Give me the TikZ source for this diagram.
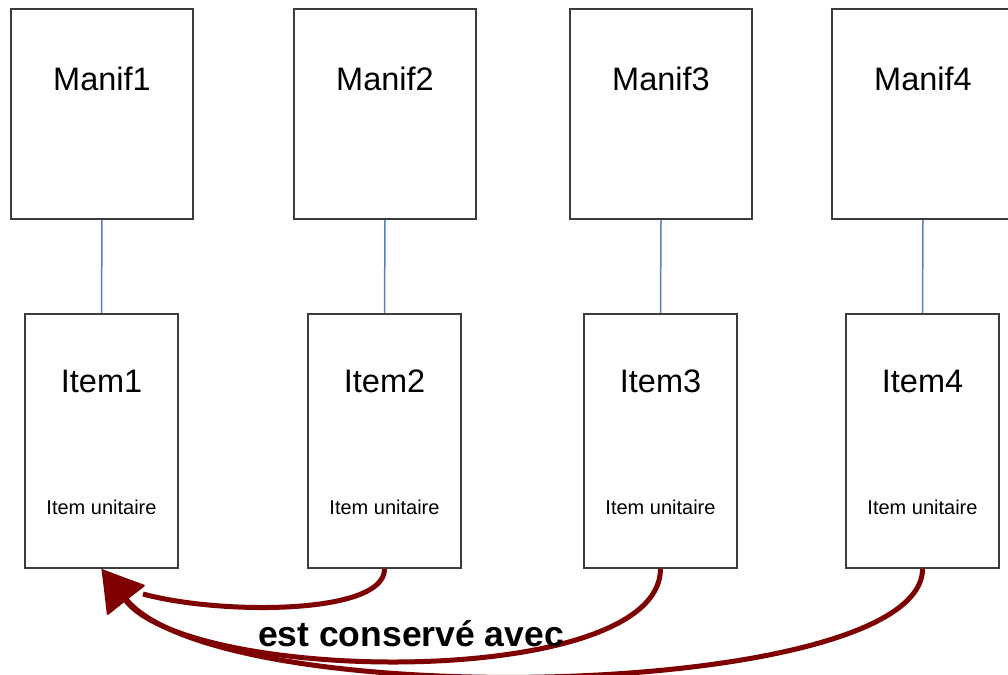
\documentclass[tikz,border=0pt]{standalone}
\usepackage{fontspec}
\setmainfont{Liberation Sans}
\usetikzlibrary{arrows.meta}
\definecolor{boxline}{HTML}{3C3C3C}
\definecolor{linkblue}{HTML}{5B80C0}
\definecolor{arrowred}{HTML}{7F0000}
\begin{document}
\begin{tikzpicture}[x=1pt,y=-1pt,
  manifbox/.style={draw=boxline,line width=1.8pt,fill=white,minimum width=182pt,minimum height=210pt,inner sep=0pt},
  itembox/.style={draw=boxline,line width=1.8pt,fill=white,minimum width=153pt,minimum height=254pt,inner sep=0pt},
  bigtxt/.style={font=\fontsize{32.5}{36}\selectfont,inner sep=0pt},
  smalltxt/.style={font=\fontsize{20}{22}\selectfont,inner sep=0pt},
  link/.style={draw=linkblue,line width=1.5pt},
  keep/.style={draw=arrowred,line width=5pt},
  keeptip/.style={keep,-{Triangle[length=40pt,width=46pt]}},
  lbl/.style={font=\fontsize{35.5}{40}\selectfont\bfseries,inner sep=0pt}]
\clip (0,0) rectangle (1008,674);
\fill[white] (0,0) rectangle (1008,674);
% Manif boxes
\node[manifbox] (M1) at (102,114) {};
\node[manifbox] (M2) at (385,114) {};
\node[manifbox] (M3) at (661,114) {};
\node[manifbox] (M4) at (923,114) {};
\foreach \i in {1,2,3,4}{
  \node[bigtxt] (MT\i) at ([yshift=-71pt]M\i.north) {Manif\i};
}
% Item boxes
\node[itembox] (I1) at (101.5,441) {};
\node[itembox] (I2) at (384.5,441) {};
\node[itembox] (I3) at (660.5,441) {};
\node[itembox] (I4) at (922.5,441) {};
\foreach \i in {1,2,3,4}{
  \node[bigtxt] (IT\i) at ([yshift=-68pt]I\i.north) {Item\i};
  \node[smalltxt] (IS\i) at ([yshift=-194pt]I\i.north) {Item unitaire};
  \draw[link] (M\i.south) -- (I\i.north);
}
% arrows
\coordinate (b2) at (143,594);
\draw[keep] (I2.south) .. controls (385,615) and (220,615) .. (b2);
\draw[keeptip] (I4.south) .. controls (922,700) and (220,715) .. (I1.south);
\draw[keeptip] (I3.south) .. controls (660,690) and (190,685) .. (I1.south);
\node[lbl] (L) at (411,634) {est conservé avec};
\end{tikzpicture}
\end{document}
